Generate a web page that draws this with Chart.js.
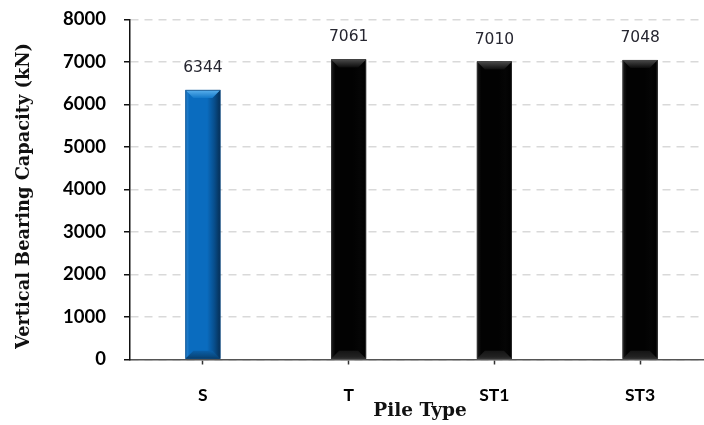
<!DOCTYPE html>
<html>
<head>
<meta charset="utf-8">
<script src="https://cdn.jsdelivr.net/npm/chart.js@4.4.1/dist/chart.umd.min.js"></script>
<style>
  html, body { margin: 0; padding: 0; background: #ffffff; overflow: hidden; }
  #wrap { width: 704px; height: 425px; overflow: hidden; position: relative; }
  canvas { display: block; }
</style>
</head>
<body>
<div id="wrap"><canvas id="chart" width="720" height="425"></canvas></div>
<script>
// Pile types and their vertical bearing capacity (kN)
const categories = ['S', 'T', 'ST1', 'ST3'];
const capacity = [6344, 7061, 7010, 7048];
const yMin = 0;
const yMax = 8000;
const yStep = 1000;
const barKinds = ['blue', 'black', 'black', 'black'];

const yTitle = 'Vertical Bearing Capacity (kN)';
const xTitle = 'Pile Type';

const palette = {
  blue:  { base: '#0a6cbf', left: '#2a86d2', right: '#062f55', mid: '#084f8e', top: ['#5db2ee', '#1479c9'], bottom: ['#0a5fa8', '#08406f'] },
  black: { base: '#020202', left: '#1c1c1c', right: '#000000', mid: '#050505', top: ['#4a4a4a', '#0c0c0c'], bottom: ['#151515', '#262626'] }
};

// Bevelled bar shading, drawn over each bar using the bar element geometry
const bevelPlugin = {
  id: 'bevel',
  afterDatasetsDraw(chart) {
    const ctx = chart.ctx;
    const meta = chart.getDatasetMeta(0);
    meta.data.forEach((bar, i) => {
      const p = palette[barKinds[i]];
      const half = bar.width / 2;
      const L = bar.x - half, R = bar.x + half, T = bar.y, B = bar.base;
      const w = R - L, b = Math.min(8, w / 4);
      ctx.save();
      const g = ctx.createLinearGradient(L, 0, R, 0);
      g.addColorStop(0, p.left);
      g.addColorStop(0.12, p.base);
      g.addColorStop(0.62, p.base);
      g.addColorStop(0.82, p.mid);
      g.addColorStop(1, p.right);
      ctx.fillStyle = g;
      ctx.fillRect(L, T, w, B - T);
      const gt = ctx.createLinearGradient(0, T, 0, T + b);
      gt.addColorStop(0, p.top[0]);
      gt.addColorStop(1, p.top[1]);
      ctx.fillStyle = gt;
      ctx.beginPath();
      ctx.moveTo(L, T);
      ctx.lineTo(R, T);
      ctx.lineTo(R - b, T + b);
      ctx.lineTo(L + b, T + b);
      ctx.closePath();
      ctx.fill();
      const gb = ctx.createLinearGradient(0, B - b, 0, B);
      gb.addColorStop(0, p.bottom[0]);
      gb.addColorStop(1, p.bottom[1]);
      ctx.fillStyle = gb;
      ctx.beginPath();
      ctx.moveTo(L, B);
      ctx.lineTo(R, B);
      ctx.lineTo(R - b, B - b);
      ctx.lineTo(L + b, B - b);
      ctx.closePath();
      ctx.fill();
      ctx.strokeStyle = barKinds[i] === 'blue' ? 'rgba(10,60,110,0.6)' : 'rgba(70,70,70,0.6)';
      ctx.lineWidth = 1;
      ctx.strokeRect(L + 0.5, T + 0.5, w - 1, B - T - 1);
      ctx.restore();
    });
  }
};

// Value labels above each bar
const valueLabelPlugin = {
  id: 'valueLabels',
  afterDatasetsDraw(chart) {
    const ctx = chart.ctx;
    const meta = chart.getDatasetMeta(0);
    ctx.save();
    ctx.font = '15.5px "DejaVu Sans"';
    ctx.fillStyle = '#262630';
    ctx.textAlign = 'center';
    ctx.textBaseline = 'alphabetic';
    meta.data.forEach((bar, i) => {
      ctx.fillText(String(capacity[i]), bar.x, bar.y - 18);
    });
    ctx.restore();
  }
};

// Axis titles
const axisTitlePlugin = {
  id: 'axisTitles',
  afterDraw(chart) {
    const ctx = chart.ctx;
    ctx.save();
    ctx.fillStyle = '#111111';
    ctx.font = 'bold 17.8px "DejaVu Serif"';
    ctx.textAlign = 'center';
    ctx.textBaseline = 'middle';
    ctx.translate(24, 196);
    ctx.rotate(-Math.PI / 2);
    ctx.fillText(yTitle, 0, 0);
    ctx.restore();

    ctx.save();
    ctx.fillStyle = '#111111';
    ctx.font = 'bold 18.5px "DejaVu Serif"';
    ctx.textAlign = 'center';
    ctx.textBaseline = 'middle';
    ctx.fillText(xTitle, 420, 411);
    ctx.restore();
  }
};

new Chart(document.getElementById('chart'), {
  type: 'bar',
  data: {
    labels: categories,
    datasets: [{
      data: capacity,
      backgroundColor: barKinds.map(k => palette[k].base),
      borderWidth: 0,
      barPercentage: 0.24,
      categoryPercentage: 1.0
    }]
  },
  plugins: [bevelPlugin, valueLabelPlugin, axisTitlePlugin],
  options: {
    responsive: false,
    animation: false,
    layout: { padding: { top: 19.5, right: 7, left: 0, bottom: 0 } },
    plugins: {
      legend: { display: false },
      tooltip: { enabled: false },
      title: { display: false }
    },
    scales: {
      x: {
        offset: true,
        grid: {
          display: true,
          offset: false,
          drawOnChartArea: false,
          drawTicks: true,
          tickLength: 5,
          tickColor: '#333333',
          tickWidth: 1.5
        },
        border: { display: true, color: '#555555', width: 1.5 },
        ticks: {
          color: '#000000',
          font: { family: '"Lato"', weight: 'bold', size: 17.5 },
          padding: 20
        },
        afterFit(scale) { scale.height = 65.5; }
      },
      y: {
        min: yMin,
        max: yMax,
        ticks: {
          stepSize: yStep,
          color: '#000000',
          font: { family: '"Lato"', weight: 'bold', size: 18.5 },
          padding: 18,
          callback: (v) => String(v)
        },
        grid: {
          color: '#d9d9d9',
          lineWidth: 1.5,
          drawTicks: true,
          tickLength: 6,
          tickColor: '#111111',
          tickWidth: 1.5,
          tickBorderDash: []
        },
        border: { display: true, color: '#111111', width: 1.5, dash: [8, 6] },
        afterFit(scale) {
          scale.width = 130;
          scale.paddingTop = 0;
          scale.paddingBottom = 0;
        }
      }
    }
  }
});
</script>
</body>
</html>
